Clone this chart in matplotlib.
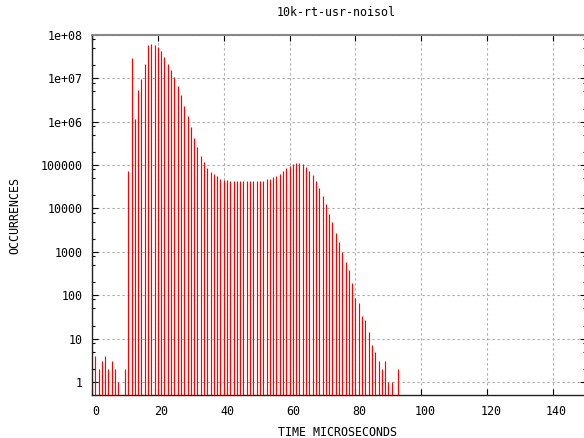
import numpy as np
import matplotlib
matplotlib.use("Agg")
import matplotlib.pyplot as plt
from matplotlib.ticker import FixedLocator, NullFormatter
import matplotlib.transforms as mtransforms

# latency histogram, one count per microsecond bin
times = list(range(1, 94))
counts = [
    4, 2, 3, 4, 2, 3, 2, 1, 0, 2,
    73000, 29000000, 1150000, 5300000, 9600000, 22000000, 58000000, 63000000, 58000000, 52000000,
    42000000, 31000000, 22000000, 16000000, 10700000, 6800000, 4100000, 2300000, 1350000, 750000,
    430000, 260000, 160000, 115000, 87000, 70000, 61000, 56000, 49000, 46000,
    46000, 43000, 43000, 42000, 42000, 42000, 42000, 42000, 42000, 42000,
    42000, 44000, 47000, 49000, 52000, 57000, 62000, 72000, 85000, 95000,
    104000, 109000, 109000, 104000, 89000, 73000, 58000, 42000, 29600, 19000,
    12700, 7600, 4900, 2760, 1680, 1000, 575, 375, 195, 85,
    66, 33, 27, 14, 7, 5, 3, 2, 3, 1,
    1, 0, 2,
]

title = "10k-rt-usr-noisol"
xlabel = "TIME MICROSECONDS"
ylabel = "OCCURRENCES"
xticks = [0, 20, 40, 60, 80, 100, 120, 140]
yticks = [1, 10, 100, 1000, 10000, 100000, 1e6, 1e7, 1e8]
ytick_labels = ["1", "10", "100", "1000", "10000", "100000", "1e+06", "1e+07", "1e+08"]

plt.rcParams["font.family"] = ["DejaVu Sans Mono"]
plt.rcParams["font.size"] = 8.4

W, H = 584, 438
fig = plt.figure(figsize=(W / 100, H / 100), dpi=100)
left, right, top, bottom = 92, 586, 35, 395
ax = fig.add_axes([left / W, 1 - bottom / H, (right - left) / W, (bottom - top) / H])

ymin = 0.5
x = [t for t, c in zip(times, counts) if c > 0]
y = [c for c in counts if c > 0]
ax.vlines(x, ymin, y, color="#ff0000", linewidth=0.85, zorder=3)

ax.set_yscale("log")
ax.set_xlim(0, 150)
ax.set_ylim(ymin, 1e8)

ax.set_xticks(xticks)
ax.set_xticklabels([str(v) for v in xticks])
ax.yaxis.set_major_locator(FixedLocator(yticks))
ax.set_yticklabels(ytick_labels)
minors = [m * 10.0 ** d for d in range(0, 8) for m in (2, 5, 8)]
ax.yaxis.set_minor_locator(FixedLocator(minors))
ax.yaxis.set_minor_formatter(NullFormatter())

ax.tick_params(which="both", direction="in", top=True, right=True, colors="black")
ax.tick_params(which="major", length=4.5, width=0.8)
ax.tick_params(which="minor", length=2.5, width=0.8)
ax.tick_params(axis="y", pad=7)
ax.tick_params(axis="x", pad=7)
ax.tick_params(axis="x", which="minor", top=False, bottom=False)

# gnuplot puts x labels a little right of the tick
off = mtransforms.ScaledTranslation(3.5 / 100, 0, fig.dpi_scale_trans)
for lab in ax.get_xticklabels():
    lab.set_transform(lab.get_transform() + off)

ax.grid(True, which="major", color="#a8a8a8", linestyle=(0, (2, 2.5)), linewidth=0.8, zorder=0)
ax.set_axisbelow(True)

for s in ["left", "bottom", "right"]:
    ax.spines[s].set_color("#222222")
    ax.spines[s].set_linewidth(1.0)
ax.spines["top"].set_color("#888888")
ax.spines["top"].set_linewidth(1.5)

fig.text(336 / W, 1 - 12 / H, title, ha="center", va="center")
fig.text(337 / W, 1 - 432 / H, xlabel, ha="center", va="center")
fig.text(15 / W, 1 - 215 / H, ylabel, ha="center", va="center", rotation=90)

fig.savefig("out.png", dpi=100)
